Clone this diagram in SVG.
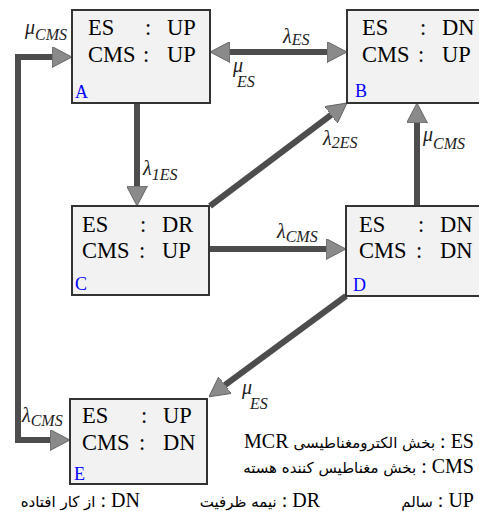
<svg xmlns="http://www.w3.org/2000/svg" width="479" height="511" viewBox="0 0 479 511">
<style>
.box{fill:#f2f2f2;stroke:#333;stroke-width:2}
.t{font-family:'Liberation Serif','Times New Roman',serif;font-size:22.5px;fill:#000}
.lab{font-family:'Liberation Serif','Times New Roman',serif;font-size:18px;fill:#0000ff}
.g{font-family:'Liberation Serif','Times New Roman',serif;font-style:italic;font-size:20px;fill:#222}
.s{font-size:16px}
.c{fill:none;stroke:#4d4d4d;stroke-width:6}
.leg{font-family:'Liberation Serif','Times New Roman',serif;font-size:20px;fill:#000}
.fa{font-family:'DejaVu Sans',sans-serif;font-size:15px}
</style>
<defs>
<marker id="ah" viewBox="0 0 20 21" refX="0" refY="10.5" markerWidth="20" markerHeight="21" markerUnits="userSpaceOnUse" orient="auto-start-reverse">
<path d="M0,0 L20,10.5 L0,21 z" fill="#8a8a8a" stroke="#555" stroke-width="0.8"/>
</marker>
</defs>
<g id="connectors">
<path class="c" d="M230,52 H327" marker-start="url(#ah)" marker-end="url(#ah)"/>
<path class="c" d="M137,103 V186" marker-end="url(#ah)"/>
<path class="c" d="M210,206 L331,115" marker-end="url(#ah)"/>
<path class="c" d="M209,249 H326" marker-end="url(#ah)"/>
<path class="c" d="M417,206 V123" marker-end="url(#ah)"/>
<path class="c" d="M346,296 L225,385" marker-end="url(#ah)"/>
<path class="c" d="M52,57 H18 V440 H50" marker-start="url(#ah)" marker-end="url(#ah)"/>
<text class="g" x="283" y="43">λ<tspan class="s" dy="2">ES</tspan></text>
<text class="g" x="233" y="72">μ</text>
<text class="g s" x="237" y="87">ES</text>
<text class="g" x="25" y="34">μ<tspan class="s" dy="6">CMS</tspan></text>
<text class="g" x="143" y="175">λ<tspan class="s" dy="5">1ES</tspan></text>
<text class="g" x="323" y="145">λ<tspan class="s" dy="3">2ES</tspan></text>
<text class="g" x="423" y="141">μ<tspan class="s" dy="8">CMS</tspan></text>
<text class="g" x="277" y="238">λ<tspan class="s" dy="4">CMS</tspan></text>
<text class="g" x="242" y="394">μ</text>
<text class="g s" x="250" y="409">ES</text>
<text class="g" x="22" y="422">λ<tspan class="s" dy="4">CMS</tspan></text>
</g>
<g id="A">
<rect class="box" x="72" y="10" width="138" height="93"/>
<text class="t" y="35"><tspan x="88">ES</tspan><tspan x="145">:</tspan><tspan x="167">UP</tspan></text>
<text class="t" y="62"><tspan x="88">CMS</tspan><tspan x="143">:</tspan><tspan x="167">UP</tspan></text>
<text class="lab" x="75" y="98">A</text>
</g>
<g id="B">
<rect class="box" x="347" y="10" width="140" height="93"/>
<text class="t" y="35"><tspan x="362">ES</tspan><tspan x="420">:</tspan><tspan x="442">DN</tspan></text>
<text class="t" y="62"><tspan x="362">CMS</tspan><tspan x="418">:</tspan><tspan x="442">UP</tspan></text>
<text class="lab" x="355" y="97">B</text>
</g>
<g id="C">
<rect class="box" x="72" y="206" width="137" height="89"/>
<text class="t" y="232"><tspan x="82">ES</tspan><tspan x="140">:</tspan><tspan x="162">DR</tspan></text>
<text class="t" y="258"><tspan x="82">CMS</tspan><tspan x="139">:</tspan><tspan x="162">UP</tspan></text>
<text class="lab" x="75" y="290">C</text>
</g>
<g id="D">
<rect class="box" x="346" y="206" width="140" height="90"/>
<text class="t" y="232"><tspan x="359">ES</tspan><tspan x="418">:</tspan><tspan x="440">DN</tspan></text>
<text class="t" y="258"><tspan x="359">CMS</tspan><tspan x="416">:</tspan><tspan x="440">DN</tspan></text>
<text class="lab" x="353" y="291">D</text>
</g>
<g id="E">
<rect class="box" x="70" y="399" width="137" height="85"/>
<text class="t" y="423"><tspan x="82">ES</tspan><tspan x="141">:</tspan><tspan x="163">UP</tspan></text>
<text class="t" y="450"><tspan x="82">CMS</tspan><tspan x="139">:</tspan><tspan x="163">DN</tspan></text>
<text class="lab" x="74" y="480">E</text>
</g>
<g id="legend">
<text class="leg" x="474" y="448" direction="rtl" unicode-bidi="embed" text-anchor="start">ES : <tspan class="fa">بخش الکترومغناطیسی</tspan> MCR</text>
<text class="leg" x="474" y="473" direction="rtl" unicode-bidi="embed" text-anchor="start">CMS : <tspan class="fa">بخش مغناطیس کننده هسته</tspan></text>
<text class="leg" x="474" y="507" direction="rtl" unicode-bidi="embed" text-anchor="start">UP : <tspan class="fa">سالم</tspan></text>
<text class="leg" x="320" y="507" direction="rtl" unicode-bidi="embed" text-anchor="start">DR : <tspan class="fa">نیمه ظرفیت</tspan></text>
<text class="leg" x="140" y="507" direction="rtl" unicode-bidi="embed" text-anchor="start">DN : <tspan class="fa">از کار افتاده</tspan></text>
</g>
</svg>
